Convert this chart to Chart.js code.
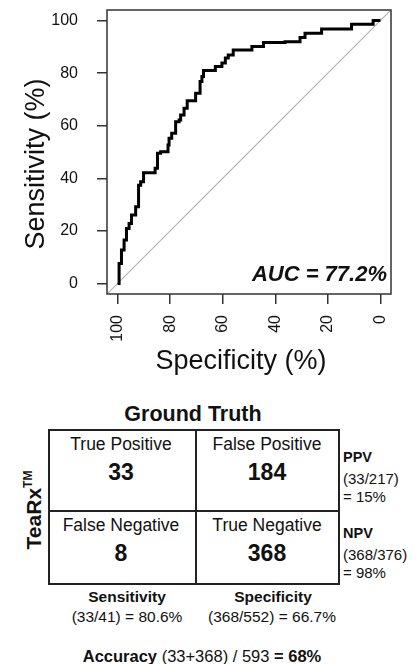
<!DOCTYPE html>
<html>
<head>
<meta charset="utf-8">
<script src="https://cdn.jsdelivr.net/npm/chart.js@4.4.1/dist/chart.umd.min.js"></script>
<style>
  body { margin: 0; background: #fff; }
  #wrap { position: relative; width: 415px; height: 664px; overflow: hidden;
          font-family: "Liberation Sans", Arial, sans-serif; color: #111; }
  #roc { position: absolute; left: 0; top: 0; }
  .t { position: absolute; white-space: nowrap; line-height: 1; transform: translate(-50%, -50%); }
  .l { position: absolute; white-space: nowrap; line-height: 1; transform: translateY(-50%); }
  .b { font-weight: bold; }
  #matrix { position: absolute; left: 48px; top: 429px; width: 292px; height: 156px;
            border: 2px solid #222; box-sizing: border-box; }
  .vline { position: absolute; left: 145px; top: 0; bottom: 0; width: 2px; background: #222; }
  .hline { position: absolute; top: 79px; left: 0; right: 0; height: 2px; background: #222; }
</style>
</head>
<body>
<div id="wrap">
  <canvas id="roc" width="415" height="390"></canvas>

  <div class="t b" style="left:193px;top:415px;font-size:21.5px">Ground Truth</div>
  <div class="t b" style="left:33px;top:510px;font-size:21px;transform:translate(-50%,-50%) rotate(-90deg)">TeaRx<sup style="font-size:12px;vertical-align:9px">TM</sup></div>

  <div id="matrix"><div class="vline"></div><div class="hline"></div></div>
  <div id="cells"></div>
  <div id="side"></div>
  <div id="bottom"></div>
</div>

<script>
// ROC curve corners (specificity %, sensitivity %)
const rocSpecificity = [100, 99.4, 98.5, 97.5, 96.6, 95.6, 94.7, 93.1, 92.0, 91.2, 90.1, 85.7, 84.8, 83.6,
  80.8, 80.4, 79.4, 77.9, 76.6, 76.0, 74.7, 73.5, 70.3, 68.6, 67.9, 67.3, 62.8, 60.3, 59.0, 57.9, 56.0,
  48.9, 44.5, 36.3, 30.6, 28.7, 22.4, 11.0, 2.8, 0];
const rocSensitivity = [0, 7.6, 12.7, 16.5, 20.9, 22.8, 26.0, 29.2, 37.4, 38.7, 42.1, 43.8, 49.5, 50.1,
  52.7, 55.2, 57.1, 61.5, 62.2, 64.1, 66.6, 69.5, 72.3, 76.8, 78.7, 81.0, 82.5, 83.8, 85.7, 86.9, 88.8,
  90.1, 91.6, 91.9, 93.5, 95.2, 96.8, 98.6, 100, 100];
const chanceSpecificity = [104, -4];
const chanceSensitivity = [-4, 104];
const axisTicks = [0, 20, 40, 60, 80, 100];
const aucLabel = 'AUC = 77.2%';

// confusion matrix
const cellLabels = ['True Positive', 'False Positive', 'False Negative', 'True Negative'];
const cellCounts = [33, 184, 8, 368];
const sideHeads = ['PPV', 'NPV'];
const sideFractions = ['(33/217)', '(368/376)'];
const sideValues = ['= 15%', '= 98%'];
const bottomHeads = ['Sensitivity', 'Specificity'];
const bottomValues = ['(33/41) = 80.6%', '(368/552) = 66.7%'];

const FONT = '"Liberation Sans", Arial, sans-serif';

const rocText = {
    id: 'rocText',
    afterDraw(chart) {
        const { ctx, chartArea: a, scales: { y } } = chart;
        ctx.save();
        ctx.strokeStyle = '#333';
        ctx.lineWidth = 1.5;
        ctx.strokeRect(a.left, a.top, a.right - a.left, a.bottom - a.top);

        ctx.fillStyle = '#111';
        ctx.textBaseline = 'middle';
        ctx.textAlign = 'right';
        ctx.font = 'italic bold 22px ' + FONT;
        ctx.fillText(aucLabel, a.right - 4, y.getPixelForValue(3.2));

        ctx.textAlign = 'center';
        ctx.font = '27px ' + FONT;
        ctx.fillText('Specificity (%)', 241, 362);
        ctx.translate(37, 164);
        ctx.rotate(-Math.PI / 2);
        ctx.fillText('Sensitivity (%)', 0, 0);
        ctx.restore();
    }
};

const fixTicks = s => { s.ticks = axisTicks.map(v => ({ value: v })); };

new Chart(document.getElementById('roc'), {
    type: 'line',
    data: {
        datasets: [
            {
                data: rocSpecificity.map((x, i) => ({ x, y: rocSensitivity[i] })),
                borderColor: '#000',
                borderWidth: 3,
                pointRadius: 0,
                stepped: 'before',
                fill: false,
            },
            {
                data: chanceSpecificity.map((x, i) => ({ x, y: chanceSensitivity[i] })),
                borderColor: '#b4b4b4',
                borderWidth: 1.2,
                pointRadius: 0,
                fill: false,
            },
        ],
    },
    options: {
        responsive: false,
        animation: false,
        layout: { padding: { top: 10, right: 24, left: 0, bottom: 0 } },
        plugins: { legend: { display: false }, tooltip: { enabled: false } },
        scales: {
            x: {
                type: 'linear', reverse: true, min: -4, max: 104,
                afterBuildTicks: fixTicks,
                afterFit: s => { s.height = 96; s.paddingLeft = 0; s.paddingRight = 0; },
                border: { display: false },
                grid: { drawOnChartArea: false, tickLength: 10, color: '#333', lineWidth: 1.5 },
                ticks: { autoSkip: false, minRotation: 90, maxRotation: 90, padding: 11,
                         color: '#111', font: { family: FONT, size: 16 } },
            },
            y: {
                type: 'linear', min: -4, max: 104,
                afterBuildTicks: fixTicks,
                afterFit: s => { s.width = 107; s.paddingTop = 0; s.paddingBottom = 0; },
                border: { display: false },
                grid: { drawOnChartArea: false, tickLength: 10, color: '#333', lineWidth: 1.5 },
                ticks: { padding: 19, color: '#111', font: { family: FONT, size: 16 } },
            },
        },
    },
    plugins: [rocText],
});

// matrix text
function put(parent, cls, text, x, y, size) {
    const d = document.createElement('div');
    d.className = cls;
    d.style.left = x + 'px';
    d.style.top = y + 'px';
    d.style.fontSize = size + 'px';
    d.textContent = text;
    parent.appendChild(d);
}

const cells = document.getElementById('cells');
const colCenters = [121, 267];
const rowTops = [429, 510];
cellLabels.forEach((lab, i) => {
    const cx = colCenters[i % 2], top = rowTops[Math.floor(i / 2)];
    put(cells, 't', lab, cx, top + 16, 17.5);
    put(cells, 't b', String(cellCounts[i]), cx, top + 43, 23);
});

const side = document.getElementById('side');
const sideTops = [457, 533];
sideHeads.forEach((h, i) => {
    put(side, 'l b', h, 343, sideTops[i], 14.5);
    put(side, 'l', sideFractions[i], 343, sideTops[i] + 21, 15);
    put(side, 'l', sideValues[i], 343, sideTops[i] + 39, 15);
});

const bottom = document.getElementById('bottom');
bottomHeads.forEach((h, i) => {
    put(bottom, 't b', h, [127, 273][i], 597, 15.5);
    put(bottom, 't', bottomValues[i], [127, 272][i], 617, 15.5);
});

const acc = document.createElement('div');
acc.className = 't';
acc.style.cssText = 'left:202px;top:656px;font-size:16.5px';
acc.innerHTML = '<b>Accuracy</b> (33+368) / 593 <b>= 68%</b>';
bottom.appendChild(acc);
</script>
</body>
</html>
